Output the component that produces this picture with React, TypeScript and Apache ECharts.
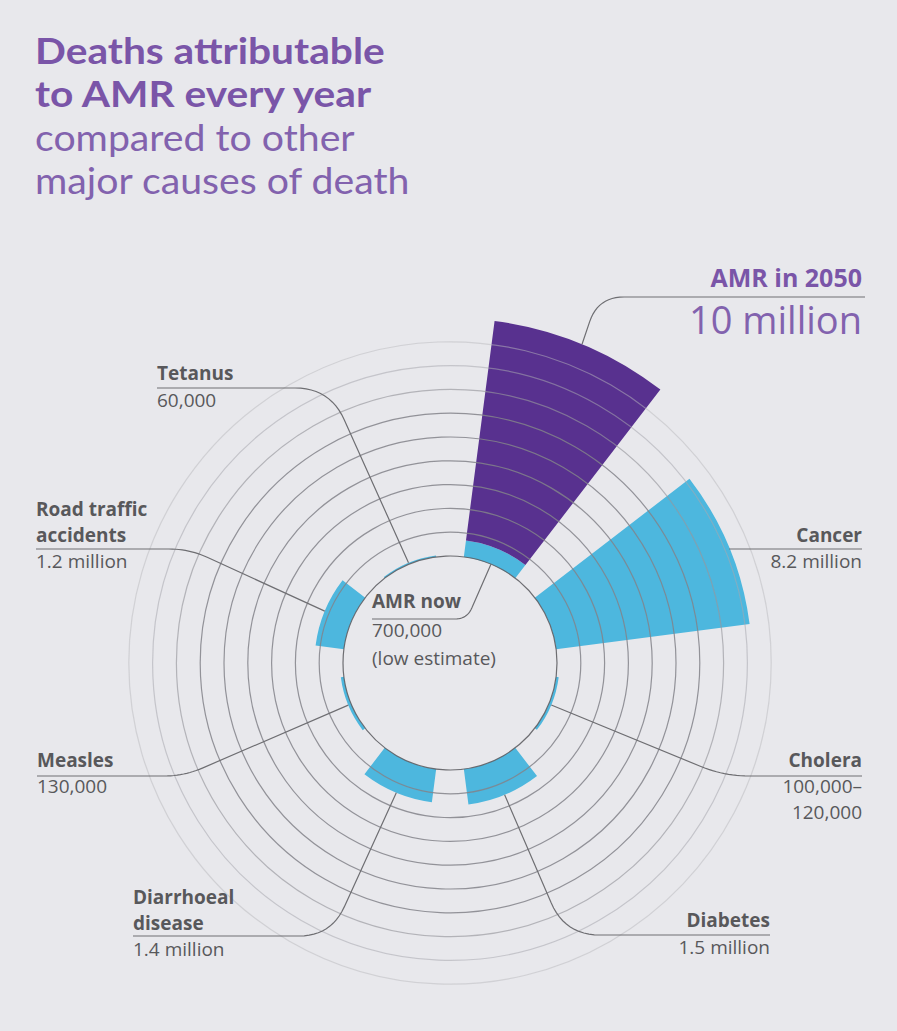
import React, { useEffect, useRef } from "react";
import * as echarts from "echarts";

// ---- data (millions of deaths per year) ----
const categories = [
  "AMR",
  "Cancer",
  "Cholera",
  "Diabetes",
  "Diarrhoeal disease",
  "Measles",
  "Road traffic accidents",
  "Tetanus",
];
const deathsNow = [0.7, 8.2, 0.11, 1.5, 1.4, 0.13, 1.2, 0.06];
const amr2050Total = 10;
const radiusTicks = [0, 1, 2, 3, 4, 5, 6, 7, 8, 9, 10];

const labelNames = [
  ["AMR now"],
  ["Cancer"],
  ["Cholera"],
  ["Diabetes"],
  ["Diarrhoeal", "disease"],
  ["Measles"],
  ["Road traffic", "accidents"],
  ["Tetanus"],
];
const labelValues = [
  ["700,000", "(low estimate)"],
  ["8.2 million"],
  ["100,000–", "120,000"],
  ["1.5 million"],
  ["1.4 million"],
  ["130,000"],
  ["1.2 million"],
  ["60,000"],
];
const titleBold = ["Deaths attributable", "to AMR every year"];
const titleRegular = ["compared to other", "major causes of death"];
const amr2050Label = "AMR in 2050";
const amr2050Value = "10 million";

// ---- layout ----
const W = 897;
const H = 1031;
const CX = 450;
const CY = 663;
const R0 = 107;
const R1 = 345;
const RMAX = radiusTicks[radiusTicks.length - 1];
const FONT = '"Open Sans", "Noto Sans", sans-serif';
const TITLE_FONT = 'Lato, "Open Sans", sans-serif';
const BG = "#e8e8ec";
const PURPLE = "#58318f";
const CYAN = "#4db7de";
const TITLE = "#7a55a8";
const TITLE_LIGHT = "#8262ae";
const DARK = "#58585b";
const LINE = "#6e6e72";
const BASE_K = 0.36;

function polarPoint(i: number, v: number): [number, number] {
  const n = categories.length;
  const step = 360 / n;
  const ang = ((90 - step / 2 - step * i) * Math.PI) / 180;
  const r = R0 + (v / RMAX) * (R1 - R0);
  return [CX + r * Math.cos(ang), CY - r * Math.sin(ang)];
}

function leaderPoints(
  p0: [number, number],
  knee: [number, number],
  endX: number,
  rad: number
): number[][] {
  const [x0, y0] = p0;
  const [kx, ky] = knee;
  if (rad <= 0) return [[x0, ky], [endX, ky]];
  const d1 = Math.hypot(kx - x0, ky - y0);
  const a = [kx - ((kx - x0) / d1) * rad, ky - ((ky - y0) / d1) * rad];
  const dir = Math.sign(endX - kx);
  const b = [kx + dir * rad, ky];
  const pts: number[][] = [[x0, y0], a];
  for (let t = 1; t < 12; t++) {
    const s = t / 12;
    const x = (1 - s) * (1 - s) * a[0] + 2 * (1 - s) * s * kx + s * s * b[0];
    const y = (1 - s) * (1 - s) * a[1] + 2 * (1 - s) * s * ky + s * s * b[1];
    pts.push([x, y]);
  }
  pts.push(b, [endX, ky]);
  return pts;
}

type Lbl = {
  cat: number;
  endValue: number;
  knee: [number, number];
  rad: number;
  underlineEnd: number;
  textX: number;
  align: "left" | "right";
  firstBase: number;
  lineH: number;
};

const labelLayout: Lbl[] = [
  { cat: 0, endValue: 0, knee: [467, 619], rad: 12, underlineEnd: 372, textX: 372, align: "left", firstBase: 608, lineH: 28.5 },
  { cat: 1, endValue: deathsNow[1], knee: [0, 549], rad: 0, underlineEnd: 862, textX: 862, align: "right", firstBase: 542, lineH: 26 },
  { cat: 2, endValue: deathsNow[2], knee: [724, 776], rad: 25, underlineEnd: 862, textX: 862, align: "right", firstBase: 767, lineH: 26 },
  { cat: 3, endValue: deathsNow[3], knee: [565, 935], rad: 35, underlineEnd: 770, textX: 770, align: "right", firstBase: 927, lineH: 27 },
  { cat: 4, endValue: deathsNow[4], knee: [331, 936], rad: 32, underlineEnd: 133, textX: 133, align: "left", firstBase: 904, lineH: 26 },
  { cat: 5, endValue: deathsNow[5], knee: [184, 776], rad: 20, underlineEnd: 37, textX: 37, align: "left", firstBase: 767, lineH: 26 },
  { cat: 6, endValue: deathsNow[6], knee: [189, 549], rad: 20, underlineEnd: 36, textX: 36, align: "left", firstBase: 516, lineH: 26 },
  { cat: 7, endValue: deathsNow[7], knee: [330, 388], rad: 35, underlineEnd: 157, textX: 157, align: "left", firstBase: 380, lineH: 27 },
];

function richBlock(
  boldLines: string[],
  regLines: string[],
  x: number,
  firstBase: number,
  size: number,
  lineH: number,
  color: string,
  align: string,
  family: string = FONT,
  scaleX: number = 1,
  regColor: string = color
) {
  const text = [
    ...boldLines.map((t) => `{b|${t}}`),
    ...regLines.map((t) => `{r|${t}}`),
  ].join("\n");
  return {
    type: "text",
    z: 20,
    x,
    y: firstBase - size * BASE_K - lineH / 2,
    scaleX,
    style: {
      text,
      fill: color,
      font: `normal ${size}px ${family}`,
      align,
      textAlign: align,
      verticalAlign: "top",
      textVerticalAlign: "top",
      rich: {
        b: { fontWeight: "bold", fontSize: size, fontFamily: family, fill: color, lineHeight: lineH, align },
        r: { fontWeight: "normal", fontSize: size, fontFamily: family, fill: regColor, lineHeight: lineH, align },
      },
    },
  };
}

export default function App() {
  const ref = useRef<HTMLDivElement>(null);

  useEffect(() => {
    if (!ref.current) return;
    const chart = echarts.init(ref.current, null, { renderer: "svg" });

    const graphics: any[] = [];
    // title (two blocks, slightly widened to the reference's letter widths)
    graphics.push(richBlock(titleBold, [], 35, 63, 36, 43.4, TITLE, "left", TITLE_FONT, 1.13));
    graphics.push(richBlock([], titleRegular, 35, 150, 36, 43.2, TITLE_LIGHT, "left", TITLE_FONT, 1.09, TITLE_LIGHT));

    // AMR 2050 label & leader
    const p2050 = polarPoint(0, amr2050Total);
    graphics.push({
      type: "polyline",
      z: 15,
      shape: { points: leaderPoints(p2050, [598, 297], 865, 26) },
      style: { stroke: LINE, lineWidth: 1.2, fill: null },
    });
    graphics.push({
      type: "text",
      z: 20,
      x: 862,
      y: 286 - 25 * BASE_K,
      style: {
        text: amr2050Label,
        fill: TITLE,
        font: `bold 25px ${FONT}`,
        align: "right",
        textAlign: "right",
        verticalAlign: "middle",
        textVerticalAlign: "middle",
      },
    });
    graphics.push({
      type: "text",
      z: 20,
      x: 862,
      y: 333 - 38 * BASE_K,
      style: {
        text: amr2050Value,
        fill: TITLE_LIGHT,
        font: `normal 38px ${FONT}`,
        align: "right",
        textAlign: "right",
        verticalAlign: "middle",
        textVerticalAlign: "middle",
      },
    });

    labelLayout.forEach((L) => {
      const p0 = polarPoint(L.cat, L.endValue);
      const knee: [number, number] = L.rad > 0 ? L.knee : [p0[0], L.knee[1]];
      graphics.push({
        type: "polyline",
        z: 15,
        shape: { points: leaderPoints(p0, knee, L.underlineEnd, L.rad) },
        style: { stroke: LINE, lineWidth: 1.2, fill: null },
      });
      graphics.push(
        richBlock(labelNames[L.cat], labelValues[L.cat], L.textX, L.firstBase, 19, L.lineH, DARK, L.align)
      );
    });

    const gridColors = radiusTicks.map((t) => {
      if (t === 0) return "rgba(95,95,100,0.9)";
      if (t <= 6) return "rgba(130,130,138,0.85)";
      if (t === 7) return "rgba(150,150,156,0.65)";
      if (t === 8) return "rgba(168,168,174,0.55)";
      if (t === 9) return "rgba(185,185,190,0.5)";
      return "rgba(0,0,0,0)";
    });

    chart.setOption({
      animation: false,
      backgroundColor: BG,
      polar: { center: [CX, CY], radius: [R0, R1] },
      angleAxis: {
        type: "category",
        data: categories,
        startAngle: 90,
        clockwise: true,
        boundaryGap: true,
        axisLine: { show: false },
        axisTick: { show: false },
        axisLabel: { show: false },
        splitLine: { show: false },
      },
      radiusAxis: {
        type: "value",
        min: 0,
        max: RMAX,
        interval: 1,
        z: 5,
        axisLine: { show: false },
        axisTick: { show: false },
        axisLabel: { show: false },
        splitLine: { show: true, lineStyle: { color: gridColors, width: 1.2 } },
      },
      series: [
        {
          type: "bar",
          name: "Now",
          coordinateSystem: "polar",
          stack: "deaths",
          data: deathsNow,
          barCategoryGap: "33%",
          itemStyle: { color: CYAN },
        },
        {
          type: "bar",
          name: "2050",
          coordinateSystem: "polar",
          stack: "deaths",
          data: categories.map((_, i) => (i === 0 ? amr2050Total - deathsNow[0] : "-")),
          barCategoryGap: "33%",
          itemStyle: { color: PURPLE },
        },
      ],
      graphic: graphics,
    });

    return () => chart.dispose();
  }, []);

  return (
    <div
      ref={ref}
      style={{ position: "fixed", left: 0, top: 0, width: W, height: H, background: BG }}
    />
  );
}
